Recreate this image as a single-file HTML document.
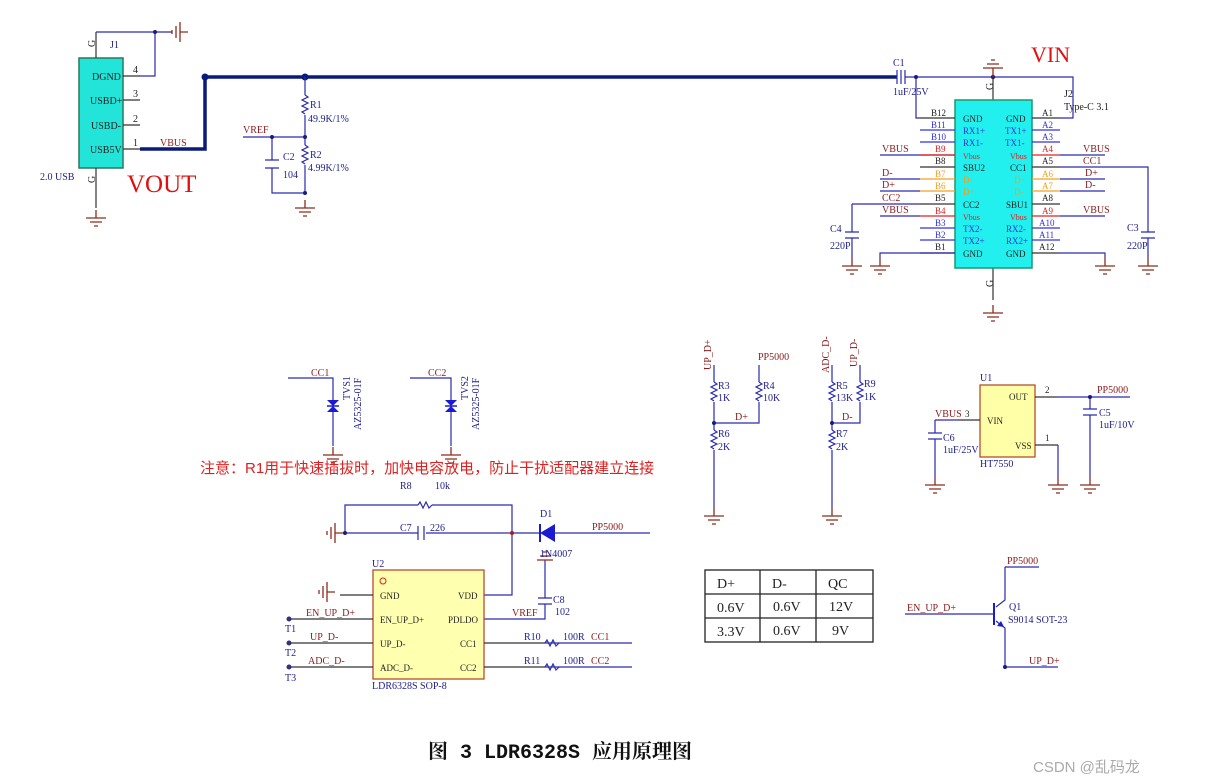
<!DOCTYPE html>
<html><head><meta charset="utf-8"><style>
body{margin:0;background:#fff}
svg{display:block;font-family:"Liberation Serif","Noto Serif CJK SC",serif}
.w{stroke:#2a2ab0;stroke-width:1.2;fill:none}
.k{stroke:#333;stroke-width:1.2;fill:none}
.g{stroke:#8b2d1e;stroke-width:1.3;fill:none}
.t{font-size:10px;fill:#202090}
.r{font-size:10px;fill:#8b1a1a}
.b{font-size:10px;fill:#222}
</style></head><body>
<svg width="1211" height="783" viewBox="0 0 1211 783">
<defs>
<g id="gd"><path class="g" d="M0,-8V0M-10,0H10M-6,4H6M-2,8H2"/></g>
<g id="gh"><path class="g" d="M8,0H0M0,-10V10M-4,-6V6M-8,-2V2"/></g>
<g id="res"><path class="w" d="M0,0l3,2l-6,3l6,3l-6,3l6,3l-6,3l3,2"/></g>
</defs>

<!-- J1 -->
<rect x="79" y="58" width="44" height="110" fill="#22e4d8" stroke="#2a7a5a" stroke-width="1.5"/>
<text x="92" y="80" class="b" font-size="9">DGND</text>
<text x="90" y="104" class="b" font-size="9">USBD+</text>
<text x="91" y="129" class="b" font-size="9">USBD-</text>
<text x="90" y="153" class="b" font-size="9">USB5V</text>
<path class="k" d="M123,76H140M123,100H140M123,125H140M123,149H140M96,58V32M96,168V208"/>
<path class="w" d="M140,76H155V32H96M155,32H172"/>
<circle cx="155" cy="32" r="2" fill="#1a1a80"/>
<use href="#gh" x="180" y="32"/>
<use href="#gd" x="96" y="218"/>
<text x="133" y="73" class="b" font-size="9">4</text><text x="133" y="97" class="b" font-size="9">3</text>
<text x="133" y="122" class="b" font-size="9">2</text><text x="133" y="146" class="b" font-size="9">1</text>
<text x="110" y="48" class="t" font-size="9">J1</text>
<text x="92" y="50" class="b" font-size="9" transform="rotate(-90 92 47)">G</text>
<text x="92" y="186" class="b" font-size="9" transform="rotate(-90 92 183)">G</text>
<text x="40" y="180" class="t" font-size="9">2.0 USB</text>
<text x="127" y="192" font-size="25" fill="#e01010">VOUT</text>

<!-- bus -->
<path d="M140,149H205V77H897" stroke="#0a1a7a" stroke-width="3.5" fill="none"/>
<circle cx="205" cy="77" r="3.5" fill="#0a1a7a"/><circle cx="305" cy="77" r="3.5" fill="#0a1a7a"/>
<text x="160" y="146" class="r">VBUS</text>
<path class="w" d="M305,77V95M305,115V145M305,165V193M243,137H305M272,137V160M272,168V193H305"/>
<use href="#res" x="305" y="95"/><use href="#res" x="305" y="145"/>
<path class="w" d="M265,160H279M265,168H279"/>
<circle cx="305" cy="137" r="2" fill="#1a1a80"/><circle cx="272" cy="137" r="2" fill="#1a1a80"/><circle cx="305" cy="193" r="2" fill="#1a1a80"/>
<use href="#gd" x="305" y="208"/>
<text x="310" y="108" class="t">R1</text><text x="308" y="122" class="t">49.9K/1%</text>
<text x="310" y="158" class="t">R2</text><text x="308" y="171" class="t">4.99K/1%</text>
<text x="243" y="133" class="r">VREF</text>
<text x="283" y="160" class="t">C2</text><text x="283" y="178" class="t">104</text>

<!-- C1 & J2 -->
<path class="w" d="M897,77V70M897,84V77"/>
<path class="w" d="M901,70V84M905,70V84M905,77H1073V118H1060M916,77V118H920"/>
<circle cx="916" cy="77" r="2" fill="#1a1a80"/><circle cx="993" cy="77" r="2.2" fill="#1a1a80"/>
<path class="g" d="M993,77V68M983,68H1003M987,64H999M991,60H995"/>
<text x="893" y="66" class="t">C1</text><text x="893" y="95" class="t" font-size="9">1uF/25V</text>
<text x="1031" y="62" font-size="22" fill="#e01010">VIN</text>
<text x="1064" y="97" class="b" font-size="9">J2</text><text x="1064" y="110" class="b" font-size="9">Type-C 3.1</text>
<path class="k" d="M993,77V100M993,268V300"/>
<text x="990" y="93" class="b" font-size="9" transform="rotate(-90 990 90)">G</text>
<text x="990" y="290" class="b" font-size="9" transform="rotate(-90 990 287)">G</text>
<use href="#gd" x="993" y="313"/>
<rect x="955" y="100" width="77" height="168" fill="#22f0ee" stroke="#1a9a6a" stroke-width="1.5"/>
<g font-size="9">
<!-- left pins -->
<g class="k"><path d="M920,118H955M920,155H955M920,167H955M920,204H955M920,253H955"/></g>
<path d="M920,130H955M920,142H955M920,228H955M920,240H955" stroke="#3030e0" stroke-width="1.2"/>
<path d="M920,155H955M920,216H955" stroke="#e02020" stroke-width="1.2"/>
<path d="M920,179H955M920,191H955" stroke="#f0a020" stroke-width="1.2"/>
<path d="M1032,118H1060M1032,167H1060M1032,204H1060M1032,253H1060" class="k"/>
<path d="M1032,130H1060M1032,142H1060M1032,228H1060M1032,240H1060" stroke="#3030e0" stroke-width="1.2"/>
<path d="M1032,155H1060M1032,216H1060" stroke="#e02020" stroke-width="1.2"/>
<path d="M1032,179H1060M1032,191H1060" stroke="#f0a020" stroke-width="1.2"/>
<text x="931" y="116" fill="#222">B12</text><text x="931" y="128" fill="#3030e0">B11</text><text x="931" y="140" fill="#3030e0">B10</text>
<text x="935" y="152" fill="#e02020">B9</text><text x="935" y="164" fill="#222">B8</text><text x="935" y="177" fill="#f0a020">B7</text>
<text x="935" y="189" fill="#f0a020">B6</text><text x="935" y="201" fill="#222">B5</text><text x="935" y="214" fill="#e02020">B4</text>
<text x="935" y="226" fill="#3030e0">B3</text><text x="935" y="238" fill="#3030e0">B2</text><text x="935" y="250" fill="#222">B1</text>
<text x="1042" y="116" fill="#222">A1</text><text x="1042" y="128" fill="#3030e0">A2</text><text x="1042" y="140" fill="#3030e0">A3</text>
<text x="1042" y="152" fill="#e02020">A4</text><text x="1042" y="164" fill="#222">A5</text><text x="1042" y="177" fill="#f0a020">A6</text>
<text x="1042" y="189" fill="#f0a020">A7</text><text x="1042" y="201" fill="#222">A8</text><text x="1042" y="214" fill="#e02020">A9</text>
<text x="1039" y="226" fill="#3030e0">A10</text><text x="1039" y="238" fill="#3030e0">A11</text><text x="1039" y="250" fill="#222">A12</text>
<text x="963" y="122" fill="#222">GND</text><text x="963" y="134" fill="#3030e0">RX1+</text><text x="963" y="146" fill="#3030e0">RX1-</text>
<text x="963" y="159" fill="#e02020" font-size="8">Vbus</text><text x="963" y="171" fill="#222">SBU2</text><text x="963" y="183" fill="#f0a020">D-</text>
<text x="963" y="195" fill="#f0a020">D+</text><text x="963" y="208" fill="#222">CC2</text><text x="963" y="220" fill="#e02020" font-size="8">Vbus</text>
<text x="963" y="232" fill="#3030e0">TX2-</text><text x="963" y="244" fill="#3030e0">TX2+</text><text x="963" y="257" fill="#222">GND</text>
<text x="1006" y="122" fill="#222">GND</text><text x="1005" y="134" fill="#3030e0">TX1+</text><text x="1005" y="146" fill="#3030e0">TX1-</text>
<text x="1010" y="159" fill="#e02020" font-size="8">Vbus</text><text x="1010" y="171" fill="#222">CC1</text><text x="1014" y="183" fill="#f0a020">D+</text>
<text x="1014" y="195" fill="#f0a020">D-</text><text x="1006" y="208" fill="#222">SBU1</text><text x="1010" y="220" fill="#e02020" font-size="8">Vbus</text>
<text x="1006" y="232" fill="#3030e0">RX2-</text><text x="1006" y="244" fill="#3030e0">RX2+</text><text x="1006" y="257" fill="#222">GND</text>
<path class="w" d="M880,155H920M880,179H920M880,191H920M852,204H920M880,216H920M1060,155H1105M1060,167H1148V232M1060,179H1105M1060,191H1105M1060,216H1105M852,204V232M852,238V258M1148,238V258M955,253H880V258M1060,253H1105V258"/>
<path class="w" d="M845,232H859M845,238H859M1141,232H1155M1141,238H1155"/>
<text x="882" y="152" class="r">VBUS</text><text x="882" y="176" class="r">D-</text><text x="882" y="188" class="r">D+</text>
<text x="882" y="201" class="r">CC2</text><text x="882" y="213" class="r">VBUS</text>
<text x="1083" y="152" class="r">VBUS</text><text x="1083" y="164" class="r">CC1</text><text x="1085" y="176" class="r">D+</text>
<text x="1085" y="188" class="r">D-</text><text x="1083" y="213" class="r">VBUS</text>
</g>
<use href="#gd" x="852" y="266"/><use href="#gd" x="880" y="266"/><use href="#gd" x="1105" y="266"/><use href="#gd" x="1148" y="266"/>
<text x="830" y="232" class="t" font-size="9">C4</text><text x="830" y="249" class="t" font-size="9">220P</text>
<text x="1127" y="231" class="t" font-size="9">C3</text><text x="1127" y="249" class="t" font-size="9">220P</text>

<!-- TVS -->
<path class="w" d="M288,378H333V446M410,378H451V446"/>
<path d="M327,400h12l-6,6zM327,412h12l-6,-6zM445,400h12l-6,6zM445,412h12l-6,-6z" fill="#1a1ad0"/>
<path d="M327,406H339M445,406H457" stroke="#1a1ad0" stroke-width="1.5"/>
<use href="#gd" x="333" y="455"/><use href="#gd" x="451" y="455"/>
<text x="311" y="376" class="r">CC1</text><text x="428" y="376" class="r">CC2</text>
<text x="0" y="0" class="t" transform="translate(350,400) rotate(-90)">TVS1</text>
<text x="0" y="0" class="t" transform="translate(361,430) rotate(-90)">AZ5325-01F</text>
<text x="0" y="0" class="t" transform="translate(468,400) rotate(-90)">TVS2</text>
<text x="0" y="0" class="t" transform="translate(479,430) rotate(-90)">AZ5325-01F</text>
<text x="200" y="473" font-size="15" fill="#e02020" font-family="Liberation Sans,'Noto Sans CJK SC',sans-serif">注意：R1用于快速插拔时，加快电容放电，防止干扰适配器建立连接</text>

<!-- U2 section -->
<path class="w" d="M345,533V505H418M432,505H512V595H484M345,533H418M426,533H512M512,533H540M555,533H650M545,560V598M545,604V619H484"/>
<path class="w" d="M418,505l2,-3l3,6l3,-6l3,6l3,-3"/>
<path class="w" d="M418,526V540M424,526V540M538,598H552M538,604H552"/>
<path d="M555,524V542L540,533Z" fill="#1a1ad0"/><path d="M540,524V542" stroke="#1a1ad0" stroke-width="2"/>
<circle cx="345" cy="533" r="2" fill="#1a1a80"/><circle cx="512" cy="533" r="2" fill="#b01a1a"/>
<use href="#gh" x="335" y="533"/><use href="#gh" x="327" y="592"/>
<path class="g" d="M545,560M537,560H553M540,556H550M543,552H547"/>
<text x="400" y="489" class="t" font-size="9">R8</text><text x="435" y="489" class="t" font-size="9">10k</text>
<text x="400" y="531" class="t" font-size="9">C7</text><text x="430" y="531" class="t" font-size="9">226</text>
<text x="540" y="517" class="t" font-size="9">D1</text><text x="540" y="557" class="t" font-size="9">1N4007</text>
<text x="592" y="530" class="r" font-size="9">PP5000</text>
<text x="553" y="603" class="t" font-size="9">C8</text><text x="555" y="615" class="t" font-size="9">102</text>
<text x="512" y="616" class="r" font-size="9">VREF</text>
<rect x="373" y="570" width="111" height="109" fill="#ffffb0" stroke="#b04020" stroke-width="1.2"/>
<circle cx="383" cy="581" r="3" fill="none" stroke="#e02020"/>
<text x="372" y="567" class="t" font-size="9">U2</text><text x="372" y="689" class="t" font-size="9">LDR6328S SOP-8</text>
<g font-size="9" fill="#222">
<text x="380" y="599">GND</text><text x="380" y="623">EN_UP_D+</text><text x="380" y="647">UP_D-</text><text x="380" y="671">ADC_D-</text>
<text x="458" y="599">VDD</text><text x="448" y="623">PDLDO</text><text x="460" y="647">CC1</text><text x="460" y="671">CC2</text>
</g>
<path class="k" d="M340,595H373M290,619H373M290,643H373M290,667H373M484,643H545M484,667H545"/>
<path class="w" d="M545,643H632M545,667H632"/>
<path class="w" d="M545,643l2,-3l3,6l3,-6l3,6l3,-3M545,667l2,-3l3,6l3,-6l3,6l3,-3"/>
<circle cx="289" cy="619" r="2.5" fill="#303080"/><circle cx="289" cy="643" r="2.5" fill="#303080"/><circle cx="289" cy="667" r="2.5" fill="#303080"/>
<text x="306" y="616" class="r" font-size="9">EN_UP_D+</text><text x="310" y="640" class="r" font-size="9">UP_D-</text><text x="308" y="664" class="r" font-size="9">ADC_D-</text>
<text x="285" y="632" class="t" font-size="9">T1</text><text x="285" y="656" class="t" font-size="9">T2</text><text x="285" y="681" class="t" font-size="9">T3</text>
<text x="524" y="640" class="t" font-size="9">R10</text><text x="563" y="640" class="t" font-size="9">100R</text><text x="591" y="640" class="r" font-size="9">CC1</text>
<text x="524" y="664" class="t" font-size="9">R11</text><text x="563" y="664" class="t" font-size="9">100R</text><text x="591" y="664" class="r" font-size="9">CC2</text>

<!-- divider groups -->
<path class="w" d="M714,365V382M714,402V430M714,450V508M714,423H759V402M759,382V365M832,365V382M832,402V430M832,450V508M832,423H860V402M860,382V365"/>
<use href="#res" x="714" y="382"/><use href="#res" x="759" y="382"/><use href="#res" x="714" y="430"/>
<use href="#res" x="832" y="382"/><use href="#res" x="860" y="382"/><use href="#res" x="832" y="430"/>
<circle cx="714" cy="423" r="2" fill="#1a1a80"/><circle cx="832" cy="423" r="2" fill="#1a1a80"/>
<use href="#gd" x="714" y="516"/><use href="#gd" x="832" y="516"/>
<g font-size="9">
<text class="r" transform="translate(711,370) rotate(-90)">UP_D+</text>
<text class="r" transform="translate(829,373) rotate(-90)">ADC_D-</text>
<text class="r" transform="translate(857,367) rotate(-90)">UP_D-</text>
<text x="758" y="360" class="r">PP5000</text>
<text x="718" y="389" class="t">R3</text><text x="718" y="401" class="t">1K</text>
<text x="763" y="389" class="t">R4</text><text x="763" y="401" class="t">10K</text>
<text x="718" y="437" class="t">R6</text><text x="718" y="450" class="t">2K</text>
<text x="735" y="420" class="r">D+</text>
<text x="836" y="389" class="t">R5</text><text x="836" y="401" class="t">13K</text>
<text x="864" y="387" class="t">R9</text><text x="864" y="400" class="t">1K</text>
<text x="836" y="437" class="t">R7</text><text x="836" y="450" class="t">2K</text>
<text x="842" y="420" class="r">D-</text>
</g>

<!-- U1 -->
<rect x="980" y="385" width="55" height="72" fill="#ffffa8" stroke="#b04020" stroke-width="1.2"/>
<path class="k" d="M1035,397H1058M1035,445H1058M958,420H980"/>
<path class="w" d="M1058,397H1130M1090,397V409M1090,415V477M935,420H958M935,420V433M935,439V477M1058,445V477"/>
<path class="w" d="M1083,409H1097M1083,415H1097M928,433H942M928,439H942"/>
<circle cx="1090" cy="397" r="2" fill="#1a1a80"/>
<use href="#gd" x="935" y="485"/><use href="#gd" x="1058" y="485"/><use href="#gd" x="1090" y="485"/>
<g font-size="9">
<text x="980" y="381" class="t">U1</text><text x="980" y="467" class="t">HT7550</text>
<text x="1009" y="400" fill="#222">OUT</text><text x="987" y="424" fill="#222">VIN</text><text x="1015" y="449" fill="#222">VSS</text>
<text x="1045" y="393" fill="#222">2</text><text x="965" y="417" fill="#222">3</text><text x="1045" y="441" fill="#222">1</text>
<text x="1097" y="393" class="r">PP5000</text><text x="935" y="417" class="r">VBUS</text>
<text x="1099" y="416" class="t">C5</text><text x="1099" y="428" class="t">1uF/10V</text>
<text x="943" y="441" class="t">C6</text><text x="943" y="453" class="t">1uF/25V</text>
</g>

<!-- table -->
<g stroke="#222" stroke-width="1.3" fill="none">
<rect x="705" y="570" width="168" height="72"/>
<path d="M705,594H873M705,618H873M760,570V642M816,570V642"/>
</g>
<g font-size="14" fill="#222">
<text x="717" y="588">D+</text><text x="772" y="588">D-</text><text x="828" y="588">QC</text>
<text x="717" y="612">0.6V</text><text x="773" y="611">0.6V</text><text x="829" y="611">12V</text>
<text x="717" y="636">3.3V</text><text x="773" y="635">0.6V</text><text x="832" y="635">9V</text>
</g>

<!-- Q1 -->
<path class="w" d="M905,614H994M1005,567H1039M1005,567V600L996,607M996,621L1005,628V667H1058"/>
<path d="M994,603V625" stroke="#1a1ad0" stroke-width="2"/>
<path d="M1004,627l-7,-1l4,-5z" fill="#1a1ad0"/>
<circle cx="1005" cy="667" r="2" fill="#1a1a80"/>
<g font-size="9">
<text x="1007" y="564" class="r">PP5000</text><text x="907" y="611" class="r">EN_UP_D+</text>
<text x="1009" y="610" class="t">Q1</text><text x="1008" y="623" class="t">S9014 SOT-23</text>
<text x="1029" y="664" class="r">UP_D+</text>
</g>

<text x="428" y="758" font-size="20" font-weight="bold" fill="#111" font-family="Liberation Mono,'Noto Serif CJK SC',serif">图 3 LDR6328S 应用原理图</text>
<text x="1033" y="772" font-size="15" fill="#aaa" font-family="Liberation Sans,'Noto Sans CJK SC',sans-serif">CSDN @乱码龙</text>
</svg>
</body></html>
